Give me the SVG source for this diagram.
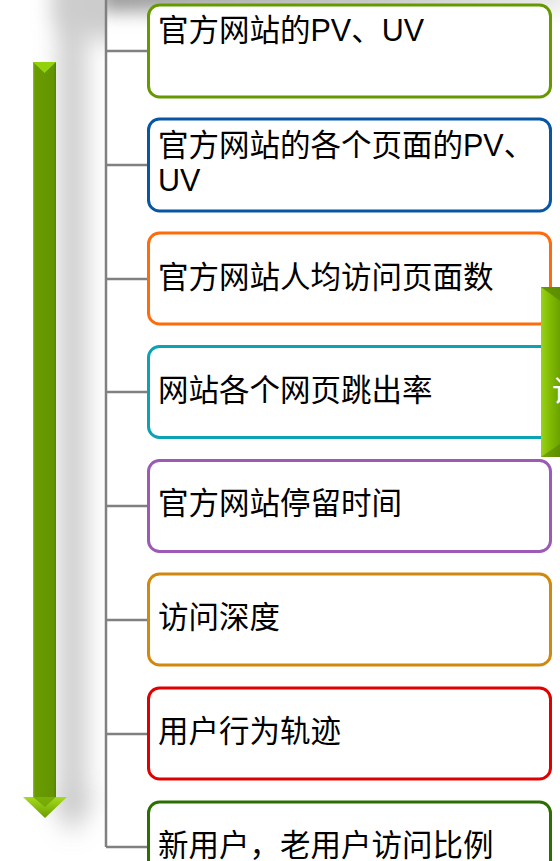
<svg xmlns="http://www.w3.org/2000/svg" width="560" height="861" viewBox="0 0 560 861">
<style>
.box{fill:#fff;stroke-width:3}
.lbl{font-family:"Liberation Sans","Noto Sans CJK SC",sans-serif;font-size:30.5px;fill:#000}
.br{stroke:#808080;stroke-width:2.5;fill:none}
</style>
<defs>
<filter id="blur" x="-50%" y="-50%" width="200%" height="200%"><feGaussianBlur stdDeviation="9"/></filter>
<filter id="blur2" x="-50%" y="-50%" width="200%" height="200%"><feGaussianBlur stdDeviation="12"/></filter>
<linearGradient id="shaft" x1="0" y1="0" x2="1" y2="0">
<stop offset="0" stop-color="#8fbf3a"/><stop offset="0.08" stop-color="#6a9c00"/><stop offset="0.9" stop-color="#639400"/><stop offset="1" stop-color="#557f00"/>
</linearGradient>
<linearGradient id="head" x1="0" y1="0" x2="0" y2="1">
<stop offset="0" stop-color="#a6dc1e"/><stop offset="1" stop-color="#6a9c00"/>
</linearGradient>
<linearGradient id="side" x1="0" y1="0" x2="1" y2="0">
<stop offset="0" stop-color="#9ad21a"/><stop offset="0.4" stop-color="#7fb800"/><stop offset="1" stop-color="#5f9200"/>
</linearGradient>
<linearGradient id="topshade" x1="0" y1="0" x2="1" y2="0">
<stop offset="0" stop-color="#9a9a9a"/><stop offset="0.6" stop-color="#c4c4c4"/><stop offset="1" stop-color="#ececec"/>
</linearGradient>
<clipPath id="leftclip"><rect x="0" y="0" width="106" height="861"/></clipPath>
</defs>
<rect width="560" height="861" fill="#fff"/>
<g id="shadows">
<rect x="100" y="-30" width="470" height="42" fill="url(#topshade)" filter="url(#blur)"/>
<g clip-path="url(#leftclip)">
<path d="M60,-40 L85,-40 L85,795 L96,795 L72,835 L50,795 L60,795 Z" fill="#b8b8b8" filter="url(#blur2)" opacity="0.8"/>
<ellipse cx="105" cy="5" rx="50" ry="35" fill="#cccccc" filter="url(#blur2)"/>
</g>
</g>
<g id="arrow">
<rect x="33" y="62" width="23" height="736" fill="url(#shaft)"/>
<path d="M33,62 L56,62 L44.5,73 Z" fill="#93d10f"/>
<path d="M23,797 L67,797 L45,818 Z" fill="url(#head)"/>
<path d="M33,797 L56,797 L45,807 Z" fill="#6a9c00" opacity="0.7"/>
</g>
<g id="connectors">
<path class="br" d="M106,0 V847"/>
<path class="br" d="M106,51 H148 M106,165 H148 M106,279 H148 M106,392 H148 M106,506 H148 M106,620 H148 M106,734 H148 M106,847 H148"/>
</g>
<g id="n1"><rect class="box" x="148.5" y="5" width="402" height="92" rx="11" stroke="#669900"/><text class="lbl" x="158" y="41">官方网站的PV、UV</text></g>
<g id="n2"><rect class="box" x="148.5" y="119" width="402" height="92" rx="11" stroke="#0656a4"/><text class="lbl" x="158" y="156">官方网站的各个页面的PV、</text><text class="lbl" x="158" y="191">UV</text></g>
<g id="n3"><rect class="box" x="148.5" y="233" width="402" height="91" rx="11" stroke="#ff6a0a"/><text class="lbl" x="158" y="288">官方网站人均访问页面数</text></g>
<g id="n4"><rect class="box" x="148.5" y="346.5" width="412" height="91" rx="11" stroke="#0aa2b4"/><text class="lbl" x="158" y="401">网站各个网页跳出率</text></g>
<g id="n5"><rect class="box" x="148.5" y="460.5" width="402" height="91" rx="11" stroke="#9c59b5"/><text class="lbl" x="158" y="514">官方网站停留时间</text></g>
<g id="n6"><rect class="box" x="148.5" y="574" width="402" height="91" rx="11" stroke="#d0880e"/><text class="lbl" x="158" y="628">访问深度</text></g>
<g id="n7"><rect class="box" x="148.5" y="688" width="402" height="91" rx="11" stroke="#e00000"/><text class="lbl" x="158" y="742">用户行为轨迹</text></g>
<g id="n8"><rect class="box" x="148.5" y="802" width="402" height="91" rx="11" stroke="#2d6e02"/><text class="lbl" x="158" y="856">新用户，老用户访问比例</text></g>
<g id="side-node">
<rect x="541" y="287" width="25" height="170" fill="url(#side)"/>
<path d="M541,287 L566,287 L566,305 Z" fill="#5a8a00" opacity="0.8"/>
<path d="M541,457 L566,457 L566,440 Z" fill="#4f7c00" opacity="0.5"/>
<text x="552" y="402" style="font-family:'Noto Sans CJK SC',sans-serif;font-size:30px;fill:#fff">访</text>
</g>
</svg>
